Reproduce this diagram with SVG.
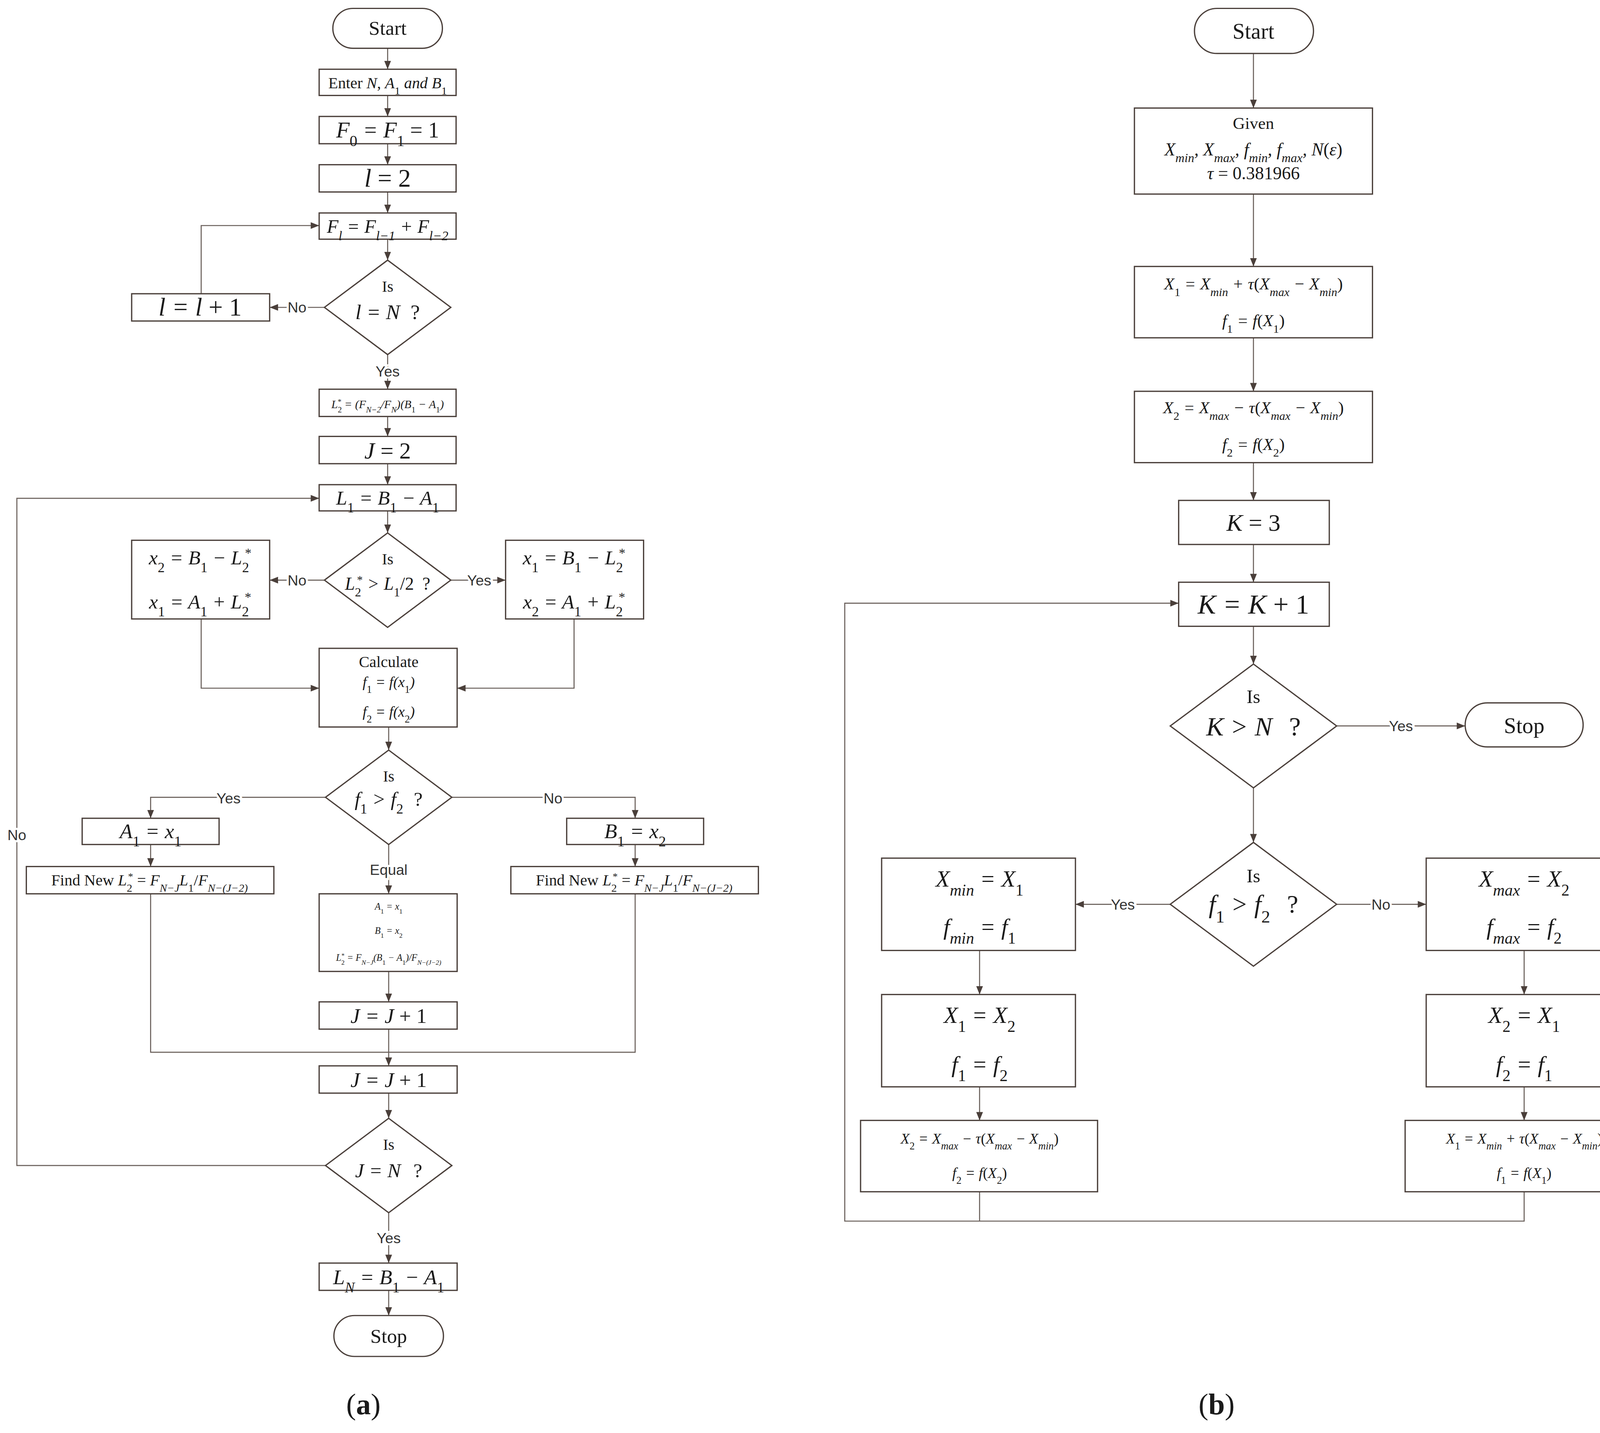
<svg xmlns="http://www.w3.org/2000/svg" width="4220" height="3669" viewBox="0 0 4220 3669">
<style>
.b{fill:#fff;stroke:#4a3f3a;stroke-width:1.2}
.c{fill:none;stroke:#6a605b;stroke-width:1}
text{font-family:"Liberation Serif",serif;fill:#1a1a1a;text-anchor:middle}
.m{font-style:italic}
.u{font-style:normal}
.lb{font-family:"Liberation Sans",sans-serif;font-size:14px;fill:#333;paint-order:stroke;stroke:#fff;stroke-width:4}
.s{baseline-shift:sub;font-size:70%}
.p{baseline-shift:super;font-size:65%}
</style>
<defs><marker id="a" viewBox="0 0 10 10" refX="10" refY="5" markerWidth="8" markerHeight="8" markerUnits="userSpaceOnUse" orient="auto"><path d="M0,1L10,5L0,9z" fill="#4a3f3a"/></marker></defs>
<rect width="4220" height="3669" fill="#fff"/>
<g transform="scale(2.6965 2.686)">
<g id="connectors" class="c" marker-end="url(#a)">
<line x1="368" y1="46" x2="368" y2="66"/>
<line x1="368" y1="91" x2="368" y2="111"/>
<line x1="368" y1="137" x2="368" y2="157"/>
<line x1="368" y1="183" x2="368" y2="203"/>
<line x1="368" y1="228" x2="368" y2="248"/>
<polyline points="191,280 191,215 303,215"/>
<line x1="308" y1="293" x2="256" y2="293"/>
<line x1="368" y1="338" x2="368" y2="371"/>
<line x1="368" y1="397" x2="368" y2="416"/>
<line x1="368" y1="442" x2="368" y2="462"/>
<line x1="368" y1="487" x2="368" y2="508"/>
<line x1="308" y1="553" x2="256" y2="553"/>
<line x1="428" y1="553" x2="480" y2="553"/>
<polyline points="191,590 191,656 303,656"/>
<polyline points="545,590 545,656 434,656"/>
<line x1="369" y1="693" x2="369" y2="715"/>
<polyline points="309,760 143,760 143,780"/>
<polyline points="429,760 603,760 603,780"/>
<line x1="143" y1="805" x2="143" y2="826"/>
<line x1="603" y1="805" x2="603" y2="826"/>
<line x1="369" y1="805" x2="369" y2="852"/>
<line x1="369" y1="926" x2="369" y2="955"/>
<polyline points="143,852 143,1003 369,1003" marker-end="none"/>
<polyline points="603,852 603,1003 369,1003" marker-end="none"/>
<line x1="369" y1="981" x2="369" y2="1016"/>
<line x1="369" y1="1042" x2="369" y2="1066"/>
<polyline points="309,1111 16,1111 16,475 303,475"/>
<line x1="369" y1="1156" x2="369" y2="1204"/>
<line x1="369" y1="1230" x2="369" y2="1254"/>
<line x1="1190" y1="51" x2="1190" y2="103"/>
<line x1="1190" y1="185" x2="1190" y2="254"/>
<line x1="1190" y1="322" x2="1190" y2="373"/>
<line x1="1190" y1="441" x2="1190" y2="477"/>
<line x1="1190" y1="519" x2="1190" y2="555"/>
<line x1="1190" y1="597" x2="1190" y2="633"/>
<line x1="1269" y1="692" x2="1391" y2="692"/>
<line x1="1190" y1="751" x2="1190" y2="803"/>
<line x1="1111" y1="862" x2="1021" y2="862"/>
<line x1="1269" y1="862" x2="1354" y2="862"/>
<line x1="930" y1="906" x2="930" y2="948"/>
<line x1="1447" y1="906" x2="1447" y2="948"/>
<line x1="930" y1="1036" x2="930" y2="1068"/>
<line x1="1447" y1="1036" x2="1447" y2="1068"/>
<polyline points="1447,1136 1447,1164 802,1164 802,575 1119,575"/>
<line x1="930" y1="1136" x2="930" y2="1164" marker-end="none"/>
</g>
<g>
<text x="282" y="298" class="lb">No</text>
<text x="368" y="359" class="lb">Yes</text>
<text x="282" y="558" class="lb">No</text>
<text x="455" y="558" class="lb">Yes</text>
<text x="217" y="766" class="lb">Yes</text>
<text x="525" y="766" class="lb">No</text>
<text x="369" y="834" class="lb">Equal</text>
<text x="16" y="801" class="lb">No</text>
<text x="369" y="1185" class="lb">Yes</text>
<text x="1330" y="697" class="lb">Yes</text>
<text x="1066" y="867" class="lb">Yes</text>
<text x="1311" y="867" class="lb">No</text>
</g>
<g id="a_start"><rect class="b" x="316" y="8" width="104" height="38" rx="19"/><text x="368" y="33" font-size="19">Start</text></g>
<g id="a_enter"><rect class="b" x="303" y="66" width="130" height="25"/><text x="368" y="84" font-size="15">Enter <tspan class="m">N</tspan>, <tspan class="m">A</tspan><tspan class="s">1</tspan> <tspan class="m">and B</tspan><tspan class="s">1</tspan></text></g>
<g id="a_f0"><rect class="b" x="303" y="111" width="130" height="26"/><text x="368" y="131" font-size="21" class="m">F<tspan class="s u">0</tspan> = F<tspan class="s u">1</tspan> <tspan class="u">= 1</tspan></text></g>
<g id="a_l2"><rect class="b" x="303" y="157" width="130" height="26"/><text x="368" y="178" font-size="24" class="m">l <tspan class="u">= 2</tspan></text></g>
<g id="a_fl"><rect class="b" x="303" y="203" width="130" height="25"/><text x="368" y="222" font-size="18" class="m">F<tspan class="s">l</tspan> = F<tspan class="s">l−1</tspan> + F<tspan class="s">l−2</tspan></text></g>
<g id="a_d1"><polygon class="b" points="368,248 428,293 368,338 308,293"/><text x="368" y="278" font-size="15">Is</text><text x="368" y="304" font-size="20" class="m">l = N<tspan class="u" dx="10">?</tspan></text></g>
<g id="a_linc"><rect class="b" x="125" y="280" width="131" height="26"/><text x="190" y="301" font-size="24" class="m">l = l <tspan class="u">+ 1</tspan></text></g>
<g id="a_l2s"><rect class="b" x="303" y="371" width="130" height="26"/><text x="368" y="389" font-size="11" class="m">L<tspan class="s u">2</tspan><tspan class="p u" dx="-4">*</tspan> = (F<tspan class="s">N−2</tspan>/F<tspan class="s">N</tspan>)(B<tspan class="s u">1</tspan> − A<tspan class="s u">1</tspan>)</text></g>
<g id="a_j2"><rect class="b" x="303" y="416" width="130" height="26"/><text x="368" y="437" font-size="22" class="m">J <tspan class="u">= 2</tspan></text></g>
<g id="a_l1"><rect class="b" x="303" y="462" width="130" height="25"/><text x="368" y="481" font-size="19" class="m">L<tspan class="s u">1</tspan> = B<tspan class="s u">1</tspan> − A<tspan class="s u">1</tspan></text></g>
<g id="a_d2"><polygon class="b" points="368,508 428,553 368,598 308,553"/><text x="368" y="538" font-size="15">Is</text><text x="368" y="562" font-size="17" class="m">L<tspan class="s u">2</tspan><tspan class="p u" dx="-4">*</tspan> &gt; L<tspan class="s u">1</tspan><tspan class="u">/2</tspan><tspan class="u" dx="8">?</tspan></text></g>
<g id="a_no2"><rect class="b" x="125" y="515" width="131" height="75"/><text x="190" y="538" font-size="19" class="m">x<tspan class="s u">2</tspan> = B<tspan class="s u">1</tspan> − L<tspan class="s u">2</tspan><tspan class="p u" dx="-4">*</tspan></text><text x="190" y="580" font-size="19" class="m">x<tspan class="s u">1</tspan> = A<tspan class="s u">1</tspan> + L<tspan class="s u">2</tspan><tspan class="p u" dx="-4">*</tspan></text></g>
<g id="a_yes2"><rect class="b" x="480" y="515" width="131" height="75"/><text x="545" y="538" font-size="19" class="m">x<tspan class="s u">1</tspan> = B<tspan class="s u">1</tspan> − L<tspan class="s u">2</tspan><tspan class="p u" dx="-4">*</tspan></text><text x="545" y="580" font-size="19" class="m">x<tspan class="s u">2</tspan> = A<tspan class="s u">1</tspan> + L<tspan class="s u">2</tspan><tspan class="p u" dx="-4">*</tspan></text></g>
<g id="a_calc"><rect class="b" x="303" y="618" width="131" height="75"/><text x="369" y="636" font-size="15">Calculate</text><text x="369" y="655" font-size="14" class="m">f<tspan class="s u">1</tspan> = f(x<tspan class="s u">1</tspan>)</text><text x="369" y="683" font-size="14" class="m">f<tspan class="s u">2</tspan> = f(x<tspan class="s u">2</tspan>)</text></g>
<g id="a_d3"><polygon class="b" points="369,715 429,760 369,805 309,760"/><text x="369" y="745" font-size="15">Is</text><text x="369" y="768" font-size="19" class="m">f<tspan class="s u">1</tspan> &gt; f<tspan class="s u">2</tspan><tspan class="u" dx="10">?</tspan></text></g>
<g id="a_a1"><rect class="b" x="78" y="780" width="130" height="25"/><text x="143" y="799" font-size="20" class="m">A<tspan class="s u">1</tspan> = x<tspan class="s u">1</tspan></text></g>
<g id="a_b1"><rect class="b" x="538" y="780" width="130" height="25"/><text x="603" y="799" font-size="20" class="m">B<tspan class="s u">1</tspan> = x<tspan class="s u">2</tspan></text></g>
<g id="a_fnl"><rect class="b" x="25" y="826" width="235" height="26"/><text x="142" y="844" font-size="15"><tspan>Find New </tspan><tspan class="m">L</tspan><tspan class="s">2</tspan><tspan class="p" dx="-4">*</tspan> = <tspan class="m">F</tspan><tspan class="s m">N−J</tspan><tspan class="m">L</tspan><tspan class="s">1</tspan>/<tspan class="m">F</tspan><tspan class="s m">N−(J−2)</tspan></text></g>
<g id="a_fnr"><rect class="b" x="485" y="826" width="235" height="26"/><text x="602" y="844" font-size="15"><tspan>Find New </tspan><tspan class="m">L</tspan><tspan class="s">2</tspan><tspan class="p" dx="-4">*</tspan> = <tspan class="m">F</tspan><tspan class="s m">N−J</tspan><tspan class="m">L</tspan><tspan class="s">1</tspan>/<tspan class="m">F</tspan><tspan class="s m">N−(J−2)</tspan></text></g>
<g id="a_eq"><rect class="b" x="303" y="852" width="131" height="74"/><text x="369" y="867" font-size="9" class="m">A<tspan class="s u">1</tspan> = x<tspan class="s u">1</tspan></text><text x="369" y="890" font-size="9" class="m">B<tspan class="s u">1</tspan> = x<tspan class="s u">2</tspan></text><text x="369" y="916" font-size="9" class="m">L<tspan class="s u">2</tspan><tspan class="p u" dx="-3">*</tspan> = F<tspan class="s">N−J</tspan>(B<tspan class="s u">1</tspan> − A<tspan class="s u">1</tspan>)/F<tspan class="s">N−(J−2)</tspan></text></g>
<g id="a_jj1"><rect class="b" x="303" y="955" width="131" height="26"/><text x="369" y="975" font-size="20" class="m">J = J <tspan class="u">+ 1</tspan></text></g>
<g id="a_jj2"><rect class="b" x="303" y="1016" width="131" height="26"/><text x="369" y="1036" font-size="20" class="m">J = J <tspan class="u">+ 1</tspan></text></g>
<g id="a_d4"><polygon class="b" points="369,1066 429,1111 369,1156 309,1111"/><text x="369" y="1096" font-size="15">Is</text><text x="369" y="1122" font-size="19" class="m">J = N<tspan class="u" dx="12">?</tspan></text></g>
<g id="a_ln"><rect class="b" x="303" y="1204" width="131" height="26"/><text x="369" y="1224" font-size="20" class="m">L<tspan class="s">N</tspan> = B<tspan class="s u">1</tspan> − A<tspan class="s u">1</tspan></text></g>
<g id="a_stop"><rect class="b" x="317" y="1254" width="104" height="39" rx="19.5"/><text x="369" y="1280" font-size="19">Stop</text></g>
<text x="345" y="1348" font-size="28">(<tspan font-weight="bold">a</tspan>)</text>

<g id="b_start"><rect class="b" x="1134" y="8" width="113" height="43" rx="21.5"/><text x="1190" y="37" font-size="21">Start</text></g>
<g id="b_given"><rect class="b" x="1077" y="103" width="226" height="82"/><text x="1190" y="123" font-size="16">Given</text><text x="1190" y="148" font-size="17" class="m">X<tspan class="s">min</tspan>, X<tspan class="s">max</tspan>, f<tspan class="s">min</tspan>, f<tspan class="s">max</tspan>, N<tspan class="u">(</tspan>ε<tspan class="u">)</tspan></text><text x="1190" y="171" font-size="17"><tspan class="m">τ</tspan> = 0.381966</text></g>
<g id="b_x1"><rect class="b" x="1077" y="254" width="226" height="68"/><text x="1190" y="276" font-size="16" class="m">X<tspan class="s u">1</tspan> = X<tspan class="s">min</tspan> + τ<tspan class="u">(</tspan>X<tspan class="s">max</tspan> − X<tspan class="s">min</tspan><tspan class="u">)</tspan></text><text x="1190" y="311" font-size="16" class="m">f<tspan class="s u">1</tspan> = f<tspan class="u">(</tspan>X<tspan class="s u">1</tspan><tspan class="u">)</tspan></text></g>
<g id="b_x2"><rect class="b" x="1077" y="373" width="226" height="68"/><text x="1190" y="394" font-size="16" class="m">X<tspan class="s u">2</tspan> = X<tspan class="s">max</tspan> − τ<tspan class="u">(</tspan>X<tspan class="s">max</tspan> − X<tspan class="s">min</tspan><tspan class="u">)</tspan></text><text x="1190" y="429" font-size="16" class="m">f<tspan class="s u">2</tspan> = f<tspan class="u">(</tspan>X<tspan class="s u">2</tspan><tspan class="u">)</tspan></text></g>
<g id="b_k3"><rect class="b" x="1119" y="477" width="143" height="42"/><text x="1190" y="506" font-size="23" class="m">K <tspan class="u">= 3</tspan></text></g>
<g id="b_kk"><rect class="b" x="1119" y="555" width="143" height="42"/><text x="1190" y="585" font-size="26" class="m">K = K <tspan class="u">+ 1</tspan></text></g>
<g id="b_d1"><polygon class="b" points="1190,633 1269,692 1190,751 1111,692"/><text x="1190" y="670" font-size="18">Is</text><text x="1190" y="701" font-size="25" class="m">K &gt; N<tspan class="u" dx="16">?</tspan></text></g>
<g id="b_stop"><rect class="b" x="1391" y="670" width="112" height="42" rx="21"/><text x="1447" y="699" font-size="21">Stop</text></g>
<g id="b_d2"><polygon class="b" points="1190,803 1269,862 1190,921 1111,862"/><text x="1190" y="841" font-size="18">Is</text><text x="1190" y="870" font-size="24" class="m">f<tspan class="s u">1</tspan> &gt; f<tspan class="s u">2</tspan><tspan class="u" dx="16">?</tspan></text></g>
<g id="b_min"><rect class="b" x="837" y="818" width="184" height="88"/><text x="930" y="845" font-size="22" class="m">X<tspan class="s">min</tspan> = X<tspan class="s u">1</tspan></text><text x="930" y="891" font-size="22" class="m">f<tspan class="s">min</tspan> = f<tspan class="s u">1</tspan></text></g>
<g id="b_max"><rect class="b" x="1354" y="818" width="185" height="88"/><text x="1447" y="845" font-size="22" class="m">X<tspan class="s">max</tspan> = X<tspan class="s u">2</tspan></text><text x="1447" y="891" font-size="22" class="m">f<tspan class="s">max</tspan> = f<tspan class="s u">2</tspan></text></g>
<g id="b_x1x2"><rect class="b" x="837" y="948" width="184" height="88"/><text x="930" y="975" font-size="22" class="m">X<tspan class="s u">1</tspan> = X<tspan class="s u">2</tspan></text><text x="930" y="1022" font-size="22" class="m">f<tspan class="s u">1</tspan> = f<tspan class="s u">2</tspan></text></g>
<g id="b_x2x1"><rect class="b" x="1354" y="948" width="185" height="88"/><text x="1447" y="975" font-size="22" class="m">X<tspan class="s u">2</tspan> = X<tspan class="s u">1</tspan></text><text x="1447" y="1022" font-size="22" class="m">f<tspan class="s u">2</tspan> = f<tspan class="s u">1</tspan></text></g>
<g id="b_bl"><rect class="b" x="817" y="1068" width="225" height="68"/><text x="930" y="1090" font-size="14" class="m">X<tspan class="s u">2</tspan> = X<tspan class="s">max</tspan> − τ<tspan class="u">(</tspan>X<tspan class="s">max</tspan> − X<tspan class="s">min</tspan><tspan class="u">)</tspan></text><text x="930" y="1123" font-size="14" class="m">f<tspan class="s u">2</tspan> = f<tspan class="u">(</tspan>X<tspan class="s u">2</tspan><tspan class="u">)</tspan></text></g>
<g id="b_br"><rect class="b" x="1334" y="1068" width="225" height="68"/><text x="1447" y="1090" font-size="14" class="m">X<tspan class="s u">1</tspan> = X<tspan class="s">min</tspan> + τ<tspan class="u">(</tspan>X<tspan class="s">max</tspan> − X<tspan class="s">min</tspan><tspan class="u">)</tspan></text><text x="1447" y="1123" font-size="14" class="m">f<tspan class="s u">1</tspan> = f<tspan class="u">(</tspan>X<tspan class="s u">1</tspan><tspan class="u">)</tspan></text></g>
<text x="1155" y="1348" font-size="28">(<tspan font-weight="bold">b</tspan>)</text>
</g>
</svg>
